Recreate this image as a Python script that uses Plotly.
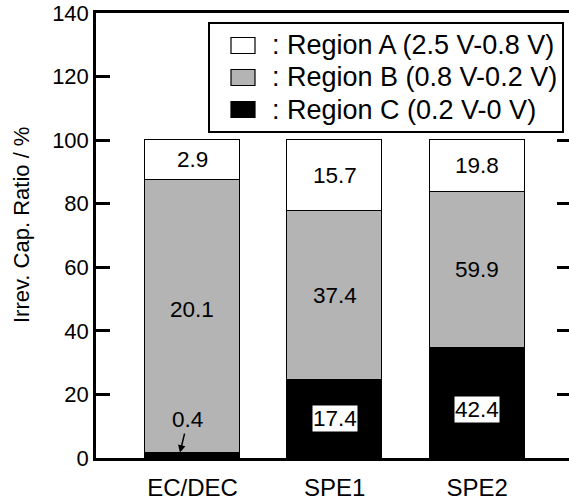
import plotly.graph_objects as go

categories = ["EC/DEC", "SPE1", "SPE2"]
region_a = [2.9, 15.7, 19.8]   # irreversible capacity, region A
region_b = [20.1, 37.4, 59.9]  # region B
region_c = [0.4, 17.4, 42.4]   # region C
legend_labels = [": Region A (2.5 V-0.8 V)", ": Region B (0.8 V-0.2 V)", ": Region C (0.2 V-0 V)"]
y_ticks = [0, 20, 40, 60, 80, 100, 120, 140]

totals = [a + b + c for a, b, c in zip(region_a, region_b, region_c)]
ratio_a = [v / t * 100 for v, t in zip(region_a, totals)]
ratio_b = [v / t * 100 for v, t in zip(region_b, totals)]
ratio_c = [v / t * 100 for v, t in zip(region_c, totals)]

FONT = "Liberation Sans, Arial, sans-serif"
W, H = 569, 502
ML, MR, MT, MB = 96, 0, 13, 44
PW, PH = W - ML - MR, H - MT - MB

def px(x):
    return (x - ML) / PW

def py(y):
    return (H - MB - y) / PH

xpos = list(range(len(categories)))
bw = 0.668
fill = {"A": "#ffffff", "B": "#b4b4b4", "C": "#000000"}

fig = go.Figure()
for name, vals, col in [("C", ratio_c, fill["C"]), ("B", ratio_b, fill["B"]), ("A", ratio_a, fill["A"])]:
    fig.add_trace(go.Bar(x=xpos, y=vals, width=bw, marker=dict(color=col, line=dict(color="black", width=1.5)),
                         showlegend=False, hoverinfo="skip"))
# invisible trace for right axis
fig.add_trace(go.Scatter(x=[0], y=[0], yaxis="y2", mode="markers", marker=dict(opacity=0), showlegend=False, hoverinfo="skip"))

LBL = 22.5
ann = []
for i in xpos:
    c, b, a = ratio_c[i], ratio_b[i], ratio_a[i]
    ann.append(dict(x=i, y=c + b + a / 2, text=f"{region_a[i]}", showarrow=False, font=dict(size=LBL, color="black", family=FONT)))
    ann.append(dict(x=i, y=c + b / 2 + (2 if i == 0 else 0), text=f"{region_b[i]}", showarrow=False, font=dict(size=LBL, color="black", family=FONT)))
    if i == 0:
        ann.append(dict(x=i - 0.088, y=c, text=f"{region_c[i]}", showarrow=True, arrowhead=2, arrowsize=1, arrowwidth=1.5,
                        arrowcolor="black", ax=8, ay=-33, font=dict(size=LBL, color="black", family=FONT)))
    else:
        ann.append(dict(x=i, y=c / 2 - (2 if i == 2 else 0), text=f"{region_c[i]}", showarrow=False, bgcolor="white", borderpad=0,
                        font=dict(size=LBL, color="black", family=FONT)))

shapes = []
# legend box
shapes.append(dict(type="rect", xref="paper", yref="paper", x0=px(209), x1=px(563), y0=py(132), y1=py(23),
                   fillcolor="white", line=dict(color="black", width=2), layer="above"))
row_y = [45.5, 77.5, 109.5]
for k, col in enumerate([fill["A"], fill["B"], fill["C"]]):
    shapes.append(dict(type="rect", xref="paper", yref="paper", x0=px(231), x1=px(255), y0=py(row_y[k] + 8), y1=py(row_y[k] - 8),
                       fillcolor=col, line=dict(color="black", width=1.2), layer="above"))
    ann.append(dict(xref="paper", yref="paper", x=px(270), y=py(row_y[k]), xanchor="left", yanchor="middle",
                    text=legend_labels[k], showarrow=False, font=dict(size=27, color="black", family=FONT)))

ann.append(dict(xref="paper", yref="paper", x=px(21), y=py(225), text="Irrev. Cap. Ratio / %", textangle=-90,
                showarrow=False, xanchor="center", yanchor="middle", font=dict(size=22, color="black", family=FONT)))

fig.update_layout(
    width=W, height=H, margin=dict(l=ML, r=MR, t=MT, b=MB),
    paper_bgcolor="white", plot_bgcolor="white", barmode="stack", bargap=0,
    font=dict(family=FONT, color="black"),
    xaxis=dict(range=[-0.678, 2.646], tickvals=xpos, ticktext=categories, showline=True, linecolor="black", linewidth=2.5,
               mirror=True, ticks="", showgrid=False, zeroline=False, ticklabelstandoff=6,
               tickfont=dict(size=24, color="black", family=FONT)),
    yaxis=dict(range=[0, 140], tickvals=y_ticks, showline=True, linecolor="black", linewidth=2.5, ticks="inside",
               ticklen=14, tickwidth=3, tickcolor="black", showgrid=False, zeroline=False,
               tickfont=dict(size=22, color="black", family=FONT)),
    yaxis2=dict(range=[0, 140], overlaying="y", side="right", tickvals=[20, 40, 60, 80, 100], ticks="inside", ticklen=12,
                tickwidth=3, tickcolor="black", showticklabels=False, showline=False, showgrid=False, zeroline=False),
    annotations=ann, shapes=shapes,
)

fig.write_html("out.html")
